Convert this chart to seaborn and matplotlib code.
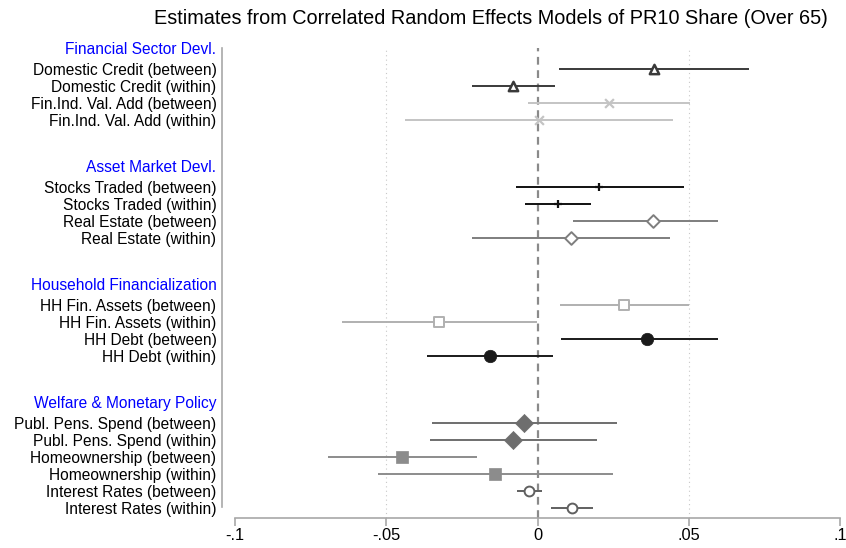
import numpy as np
import pandas as pd
import matplotlib
matplotlib.use("Agg")
import matplotlib.pyplot as plt
import seaborn as sns

# ---------------- data ----------------
groups = ["Financial Sector Devl.", "Asset Market Devl.",
          "Household Financialization", "Welfare & Monetary Policy"]
labels = [
    ["Domestic Credit (between)", "Domestic Credit (within)",
     "Fin.Ind. Val. Add (between)", "Fin.Ind. Val. Add (within)"],
    ["Stocks Traded (between)", "Stocks Traded (within)",
     "Real Estate (between)", "Real Estate (within)"],
    ["HH Fin. Assets (between)", "HH Fin. Assets (within)",
     "HH Debt (between)", "HH Debt (within)"],
    ["Publ. Pens. Spend (between)", "Publ. Pens. Spend (within)",
     "Homeownership (between)", "Homeownership (within)",
     "Interest Rates (between)", "Interest Rates (within)"],
]
estimates = [
    [0.0385, -0.0080, 0.0236, 0.0005],
    [0.0204, 0.0068, 0.0383, 0.0111],
    [0.0286, -0.0324, 0.0363, -0.0157],
    [-0.0044, -0.0081, -0.0447, -0.0139, -0.0028, 0.0114],
]
ci_low = [
    [0.0072, -0.0215, -0.0030, -0.0437],
    [-0.0072, -0.0041, 0.0116, -0.0215],
    [0.0073, -0.0647, 0.0077, -0.0364],
    [-0.0350, -0.0354, -0.0692, -0.0528, -0.0069, 0.0045],
]
ci_high = [
    [0.0698, 0.0057, 0.0503, 0.0447],
    [0.0483, 0.0177, 0.0596, 0.0439],
    [0.0501, -0.0001, 0.0596, 0.0050],
    [0.0263, 0.0196, -0.0200, 0.0250, 0.0014, 0.0183],
]
xticks = [-0.1, -0.05, 0, 0.05, 0.1]
xticklabels = ["-.1", "-.05", "0", ".05", ".1"]

# style per variable pair: (marker, line/marker colour, hollow)
styles = [
    [("^", "#3a3a3a", True), ("^", "#3a3a3a", True),
     ("x", "#c4c4c4", False), ("x", "#c4c4c4", False)],
    [("+", "#111111", False), ("+", "#111111", False),
     ("D", "#7e7e7e", True), ("D", "#7e7e7e", True)],
    [("s", "#b0b0b0", True), ("s", "#b0b0b0", True),
     ("o", "#1a1a1a", False), ("o", "#1a1a1a", False)],
    [("D", "#6e6e6e", False), ("D", "#6e6e6e", False),
     ("s", "#8c8c8c", False), ("s", "#8c8c8c", False),
     ("o", "#606060", True), ("o", "#606060", True)],
]

rows = []
header_pos = []
GROUP_STEP = 6.96
for g, name in enumerate(groups):
    header_pos.append(g * GROUP_STEP - 1.24)
    for k, lab in enumerate(labels[g]):
        m, c, hollow = styles[g][k]
        rows.append(dict(label=lab, pos=g * GROUP_STEP + k, est=estimates[g][k],
                         lo=ci_low[g][k], hi=ci_high[g][k],
                         marker=m, color=c, hollow=hollow))
df = pd.DataFrame(rows)

# ---------------- figure ----------------
sns.set_theme(style="white")
plt.rcParams["font.family"] = ["Liberation Sans", "DejaVu Sans"]

W, H = 846, 548
fig = plt.figure(figsize=(W / 100, H / 100), dpi=100)
ax_l, ax_r, ax_t, ax_b = 222, 843, 48, 518
ax = fig.add_axes([ax_l / W, 1 - ax_b / H, (ax_r - ax_l) / W, (ax_b - ax_t) / H])

x0px, scale = 537.5, 3027.0
ax.set_xlim((ax_l - x0px) / scale, (ax_r - x0px) / scale)
row_px, first_px = 16.95, 69.3
ax.set_ylim((ax_b - first_px) / row_px, (ax_t - first_px) / row_px)

# grid lines and zero line
for gx in [-0.05, 0.05]:
    ax.axvline(gx, color="#c8c8c8", lw=0.8, ls=(0, (1, 3)), zorder=0)
ax.axvline(0, color="#8a8a8a", lw=1.6, ls=(0, (3.5, 2.5)), zorder=1)

# confidence intervals
for _, r in df.iterrows():
    ax.hlines(r.pos, r.lo, r.hi, color=r.color, lw=1.4, zorder=2)

# point estimates
for i, r in df.iterrows():
    sub = df.loc[[i]]
    if r.marker in ("x", "+"):
        sns.scatterplot(data=sub, x="est", y="pos", marker=r.marker, color=r.color,
                        s=40, linewidth=1.6, ax=ax, zorder=3, legend=False)
    elif r.hollow:
        size = {"^": 45, "D": 42, "s": 55, "o": 50}[r.marker]
        lw = 1.8 if r.marker == "^" else 1.4
        sns.scatterplot(data=sub, x="est", y="pos", marker=r.marker, color="white",
                        edgecolor=r.color, s=size, linewidth=lw, ax=ax, zorder=3,
                        legend=False)
    else:
        size = 80 if r.marker == "o" else 85
        sns.scatterplot(data=sub, x="est", y="pos", marker=r.marker, color=r.color,
                        edgecolor=r.color, s=size, linewidth=0.5, ax=ax, zorder=3,
                        legend=False)

# y labels: items + headers
ypos = list(df["pos"]) + header_pos
ylabs = list(df["label"]) + groups
ax.set_yticks(ypos)
ax.set_yticklabels(ylabs, fontsize=11.2)
for t, lab in zip(ax.get_yticklabels(), ylabs):
    t.set_color("#0000ff" if lab in groups else "black")
ax.tick_params(axis="y", left=False, length=0, pad=4)

ax.set_xticks(xticks)
ax.set_xticklabels(xticklabels, fontsize=11.8)
ax.tick_params(axis="x", bottom=True, direction="out", length=6, width=1.2,
               color="#a8a8a8", pad=1, labelcolor="black")

ax.set_xlabel("")
ax.set_ylabel("")
for s in ["top", "right"]:
    ax.spines[s].set_visible(False)
ax.spines["left"].set_color("#a8a8a8")
ax.spines["left"].set_linewidth(1.2)
ax.spines["bottom"].set_color("#a8a8a8")
ax.spines["bottom"].set_linewidth(1.2)
ax.spines["bottom"].set_bounds(-0.1, 0.1)
ax.spines["left"].set_bounds((507 - first_px) / row_px, (ax_t - first_px) / row_px)

fig.text(491 / W, 1 - 18 / H, "Estimates from Correlated Random Effects Models of PR10 Share (Over 65)",
         ha="center", va="center", fontsize=14.3, color="black")

fig.savefig("out.png", dpi=100, facecolor="white")
